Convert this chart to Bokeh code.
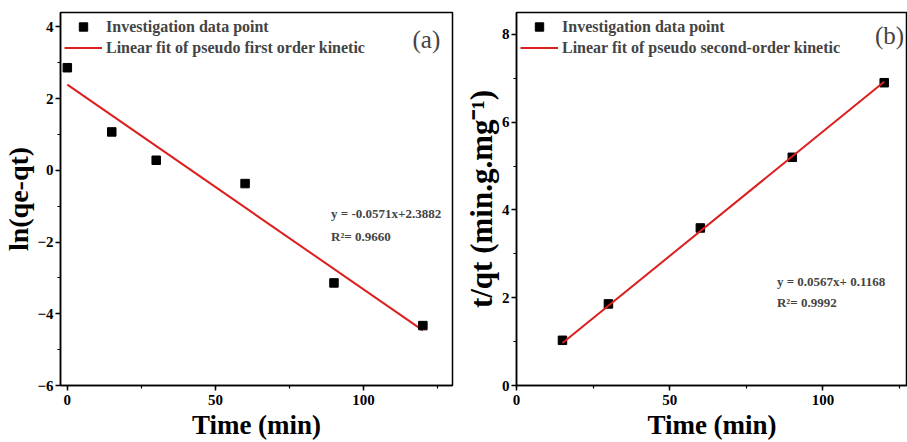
from bokeh.plotting import figure
from bokeh.layouts import row
from bokeh.models import Label, SingleIntervalTicker, Legend, LegendItem
from bokeh.embed import file_html
from bokeh.resources import INLINE

# ---- data: panel (a) pseudo first order ----
t_a = [0, 15, 30, 60, 90, 120]
lnq = [2.86, 1.07, 0.28, -0.37, -3.14, -4.33]
fit_a_x = [0, 120]
fit_a_slope = -0.0571
fit_a_icpt = 2.3882

# ---- data: panel (b) pseudo second order ----
t_b = [15, 30, 60, 90, 120]
tq = [1.03, 1.86, 3.59, 5.20, 6.90]
fit_b_x = [15, 120]
fit_b_slope = 0.0567
fit_b_icpt = 0.1168

FONT = "Liberation Serif"
RED = "#dc1e1e"


def style(p, xlabel, ylabel, ysize):
    p.xgrid.visible = False
    p.ygrid.visible = False
    p.outline_line_color = "black"
    p.outline_line_width = 1.5
    p.xaxis.ticker = SingleIntervalTicker(interval=50, num_minor_ticks=2)
    p.yaxis.ticker = SingleIntervalTicker(interval=2, num_minor_ticks=2)
    for ax in (p.xaxis[0], p.yaxis[0]):
        ax.axis_line_width = 1.5
        ax.major_tick_line_width = 1.5
        ax.minor_tick_line_width = 1.2
        ax.major_tick_out = 5
        ax.major_tick_in = 0
        ax.minor_tick_out = 3
        ax.minor_tick_in = 0
        ax.major_label_text_font = FONT
        ax.major_label_text_font_style = "bold"
        ax.major_label_text_font_size = "15px"
        ax.major_label_text_color = "black"
        ax.axis_label_text_font = FONT
        ax.axis_label_text_font_style = "bold"
        ax.axis_label_text_color = "black"
    p.xaxis.axis_label = xlabel
    p.yaxis.axis_label = ylabel
    p.xaxis.axis_label_text_font_size = "27px"
    p.yaxis.axis_label_text_font_size = ysize
    p.xaxis.axis_label_standoff = 2
    p.yaxis.axis_label_standoff = 0
    p.xaxis.major_label_standoff = 4
    p.yaxis.major_label_standoff = 2


def add_legend(p, r_pts, r_line, txt2):
    leg = Legend(items=[LegendItem(label="Investigation data point", renderers=[r_pts]),
                        LegendItem(label=txt2, renderers=[r_line])],
                 location="top_left")
    leg.label_text_font = FONT
    leg.label_text_font_style = "bold"
    leg.label_text_font_size = "16px"
    leg.glyph_width = 38
    leg.glyph_height = 21
    leg.label_height = 21
    leg.label_standoff = 4
    leg.spacing = 0
    leg.padding = 4
    leg.margin = 4
    leg.border_line_color = None
    leg.background_fill_alpha = 0
    p.add_layout(leg)


# ---------- panel (a) ----------
pa = figure(width=460, height=442, x_range=(-2.3, 130), y_range=(-6, 4.4),
            output_backend="svg", toolbar_location=None,
            min_border_left=10, min_border_right=8, min_border_top=12, min_border_bottom=10)
style(pa, "Time (min)", "ln(qe-qt)", "28px")
pa.yaxis.major_label_overrides = {-6: "\u22126", -4: "\u22124", -2: "\u22122"}
fa_y = [fit_a_slope * x + fit_a_icpt for x in fit_a_x]
la = pa.line(fit_a_x, fa_y, line_color=RED, line_width=2)
sa = pa.scatter(t_a, lnq, marker="square", size=8.5, color="black")
add_legend(pa, sa, la, "Linear fit of pseudo first order kinetic")
pa.add_layout(Label(x=89, y=-1.2, text="y = -0.0571x+2.3882", text_font=FONT,
                    text_font_style="bold", text_font_size="13px", text_baseline="middle"))
pa.add_layout(Label(x=89, y=-1.84, text="R\u00b2= 0.9660", text_font=FONT,
                    text_font_style="bold", text_font_size="13px", text_baseline="middle"))
pa.add_layout(Label(x=116.5, y=3.66, text="(a)", text_font=FONT,
                    text_font_size="25px", text_baseline="middle"))

# ---------- panel (b) ----------
pb = figure(width=447, height=442, x_range=(0, 127.6), y_range=(0, 8.5),
            output_backend="svg", toolbar_location=None,
            min_border_left=10, min_border_right=0, min_border_top=12, min_border_bottom=10)
style(pb, "Time (min)", "t/qt (min.g.mg\u207b\u00b9)", "31px")
fb_y = [fit_b_slope * x + fit_b_icpt for x in fit_b_x]
sb = pb.scatter(t_b, tq, marker="square", size=8.5, color="black")
lb = pb.line(fit_b_x, fb_y, line_color=RED, line_width=2)
add_legend(pb, sb, lb, "Linear fit of pseudo second-order kinetic")
pb.add_layout(Label(x=85, y=2.38, text="y = 0.0567x+ 0.1168", text_font=FONT,
                    text_font_style="bold", text_font_size="13px", text_baseline="middle"))
pb.add_layout(Label(x=85, y=1.9, text="R\u00b2= 0.9992", text_font=FONT,
                    text_font_style="bold", text_font_size="13px", text_baseline="middle"))
pb.add_layout(Label(x=117, y=7.97, text="(b)", text_font=FONT,
                    text_font_size="25px", text_baseline="middle"))

layout = row(pa, pb)
open("out.html", "w").write(file_html(layout, INLINE))
